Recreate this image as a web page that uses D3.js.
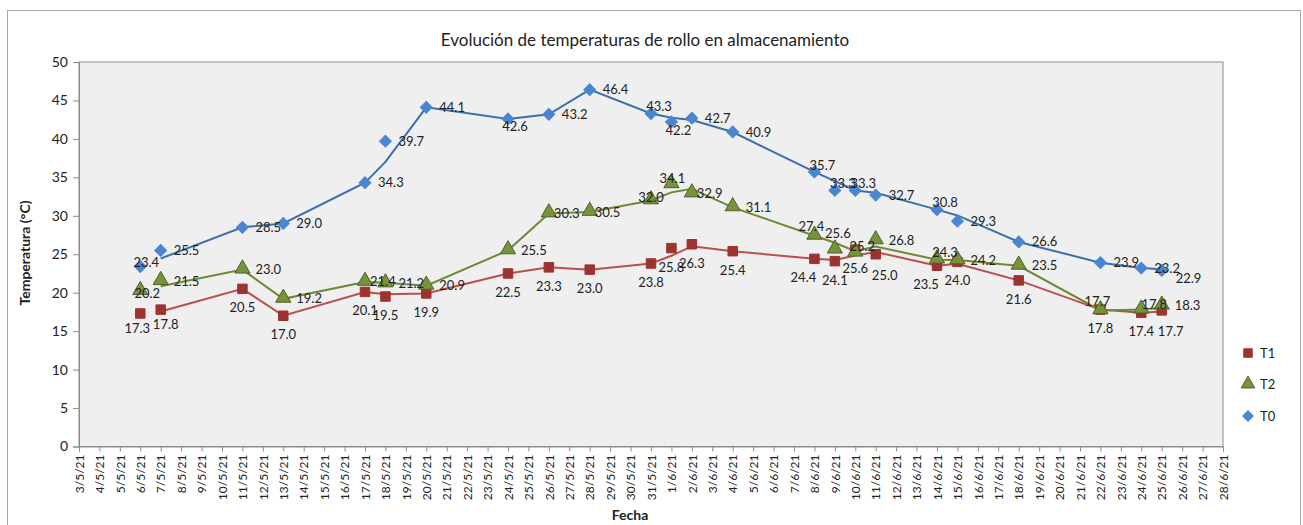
<!DOCTYPE html>
<html>
<head>
<meta charset="utf-8">
<script src="https://cdn.jsdelivr.net/npm/d3@7"></script>
<style>
  body { margin: 0; background: #fff; }
  text { font-family: Lato, "Open Sans", sans-serif; fill: #222; }
</style>
</head>
<body>
<div id="chart"></div>
<script>
// measurement dates and values
var dates = ['2021-05-06','2021-05-07','2021-05-11','2021-05-13','2021-05-17','2021-05-18','2021-05-20',
             '2021-05-24','2021-05-26','2021-05-28','2021-05-31','2021-06-01','2021-06-02','2021-06-04',
             '2021-06-08','2021-06-09','2021-06-10','2021-06-11','2021-06-14','2021-06-15','2021-06-18',
             '2021-06-22','2021-06-24','2021-06-25'];
var t1 = [17.3,17.8,20.5,17.0,20.1,19.5,19.9,22.5,23.3,23.0,23.8,25.8,26.3,25.4,24.4,24.1,25.6,25.0,23.5,24.0,21.6,17.8,17.4,17.7];
var t2 = [20.2,21.5,23.0,19.2,21.4,21.2,20.9,25.5,30.3,30.5,32.0,34.1,32.9,31.1,27.4,25.6,25.2,26.8,24.3,24.2,23.5,17.7,17.8,18.3];
var t0 = [23.4,25.5,28.5,29.0,34.3,39.7,44.1,42.6,43.2,46.4,43.3,42.2,42.7,40.9,35.7,33.3,33.3,32.7,30.8,29.3,26.6,23.9,23.2,22.9];
var seriesNames = ['T1','T2','T0'];
var yTicks = [0,5,10,15,20,25,30,35,40,45,50];

// where each data label sits (codes, see labelOffsets)
var pos1 = ['b1','b2','b','b','b','b','b','b','b','b','b','b','b','b','bl','b','b','br','bl','b','b','b','b','br'];
var pos2 = ['c2','r','r','r','r2','r','r','r','r2','r2','c3','c4','r2','r','t2','t3','c5','r','t','r','r','t2','c6','r'];
var pos0 = ['c','r','r','r','r','r','r','bc','r','r','t','bc','r','r','t','t','t','r','t','r','r','r','r','rb'];

var labelOffsets = {
  r: [13, 0, 'start'], r2: [5, 0, 'start'], rb: [14, 8, 'start'],
  b: [0, 19, 'middle'], b1: [-3, 15, 'middle'], b2: [5, 15, 'middle'],
  bl: [-11, 19, 'middle'], br: [9, 21, 'middle'], bc: [7, 8, 'middle'],
  t: [8, -7, 'middle'], t2: [-3, -9, 'middle'], t3: [3, -16, 'middle'],
  c: [6, -4, 'middle'], c2: [7, 2, 'middle'], c3: [0, -3, 'middle'], c4: [1, -6, 'middle'],
  c5: [7, -6, 'middle'], c6: [13, -5, 'middle']
};

var width = 1303, height = 525;
var svg = d3.select('#chart').append('svg')
    .attr('width', width)
    .attr('height', height);

// outer chart border
svg.append('rect')
    .attr('x', 7.5).attr('y', 10.5)
    .attr('width', 1293).attr('height', 530)
    .attr('fill', '#fff')
    .attr('stroke', '#a6a6a6');

var parse = d3.utcParse('%Y-%m-%d');
var days = dates.map(parse);

var x = d3.scaleUtc()
    .domain([parse('2021-05-03'), parse('2021-06-28')])
    .range([79, 1223]);
var y = d3.scaleLinear()
    .domain([0, 50])
    .range([446.5, 62]);

// plot area
svg.append('rect')
    .attr('x', x.range()[0]).attr('y', y.range()[1])
    .attr('width', x.range()[1] - x.range()[0])
    .attr('height', y.range()[0] - y.range()[1])
    .attr('fill', '#efefef')
    .attr('stroke', '#8c8c8c');

// axes
var yAxis = svg.append('g')
    .attr('transform', 'translate(' + x.range()[0] + ',0)')
    .call(d3.axisLeft(y).tickValues(yTicks).tickSize(6).tickPadding(5));
yAxis.selectAll('text').style('font-size', '14px');

var xAxis = svg.append('g')
    .attr('transform', 'translate(0,' + y.range()[0] + ')')
    .call(d3.axisBottom(x).ticks(d3.utcDay.every(1)).tickFormat(d3.utcFormat('%-d/%-m/%y')).tickSize(5));
xAxis.selectAll('text')
    .style('font-size', '12px')
    .attr('transform', 'rotate(-90)')
    .attr('text-anchor', 'end')
    .attr('x', -8)
    .attr('y', 0)
    .attr('dy', '0.35em');

[yAxis, xAxis].forEach(function(a) {
  a.select('.domain').attr('stroke', '#8c8c8c');
  a.selectAll('.tick line').attr('stroke', '#8c8c8c');
});

// titles
svg.append('text')
    .attr('x', 645).attr('y', 46)
    .attr('text-anchor', 'middle')
    .style('font-size', '17px')
    .text('Evolución de temperaturas de rollo en almacenamiento');
svg.append('text')
    .attr('transform', 'translate(30,253) rotate(-90)')
    .attr('text-anchor', 'middle')
    .style('font-size', '14px').style('font-weight', 'bold')
    .text('Temperatura (°C)');
svg.append('text')
    .attr('x', 630).attr('y', 520)
    .attr('text-anchor', 'middle')
    .style('font-size', '14px').style('font-weight', 'bold')
    .text('Fecha');

// series setup (diamond = square turned 45 degrees, like Excel)
var series = [
  { name: 'T1', values: t1, pos: pos1, fill: '#9b3331', stroke: '#9b3331', line: '#b9504d', shape: d3.symbolSquare, size: 90, rot: 0 },
  { name: 'T2', values: t2, pos: pos2, fill: '#77933c', stroke: '#4f6228', line: '#6c8a35', shape: d3.symbolTriangle, size: 100, rot: 0 },
  { name: 'T0', values: t0, pos: pos0, fill: '#4a86cf', stroke: '#4a86cf', line: '#3d6fad', shape: d3.symbolSquare, size: 70, rot: 45 }
];

// two-day moving average trendline (previous day + current day)
function movingAvg(vals) {
  var byDay = {};
  days.forEach(function(d, i) { byDay[+d] = vals[i]; });
  var out = [];
  days.forEach(function(d, i) {
    if (i === 0) return;
    var prev = byDay[+d3.utcDay.offset(d, -1)];
    out.push({ date: d, value: prev === undefined ? vals[i] : (prev + vals[i]) / 2 });
  });
  return out;
}

var line = d3.line()
    .x(function(d) { return x(d.date); })
    .y(function(d) { return y(d.value); });

series.forEach(function(s) {
  svg.append('path')
      .datum(movingAvg(s.values))
      .attr('d', line)
      .attr('fill', 'none')
      .attr('stroke', s.line)
      .attr('stroke-width', 2);
});

series.forEach(function(s) {
  var pts = s.values.map(function(v, i) { return { date: days[i], value: v, pos: s.pos[i] }; });
  var g = svg.append('g').attr('class', s.name);
  g.selectAll('path')
      .data(pts)
      .enter().append('path')
      .attr('d', d3.symbol().type(s.shape).size(s.size))
      .attr('transform', function(d) {
        var dy = s.shape === d3.symbolTriangle ? -1 : 0;
        return 'translate(' + x(d.date) + ',' + (y(d.value) + dy) + ') rotate(' + s.rot + ')';
      })
      .attr('fill', s.fill)
      .attr('stroke', s.stroke)
      .attr('stroke-width', 1);
});

// data labels on top
series.forEach(function(s) {
  var pts = s.values.map(function(v, i) { return { date: days[i], value: v, pos: s.pos[i] }; });
  svg.append('g').selectAll('text')
      .data(pts)
      .enter().append('text')
      .attr('x', function(d) { return x(d.date) + labelOffsets[d.pos][0]; })
      .attr('y', function(d) { return y(d.value) + labelOffsets[d.pos][1]; })
      .attr('dy', '0.35em')
      .attr('text-anchor', function(d) { return labelOffsets[d.pos][2]; })
      .style('font-size', '13px')
      .text(function(d) { return d.value.toFixed(1); });
});

// legend
var legend = svg.append('g').attr('transform', 'translate(1248,0)');
var legendY = [353, 384, 416];
series.forEach(function(s, i) {
  legend.append('path')
      .attr('d', d3.symbol().type(s.shape).size(s.size * 0.8))
      .attr('transform', 'translate(0,' + legendY[i] + ') rotate(' + s.rot + ')')
      .attr('fill', s.fill)
      .attr('stroke', s.stroke);
  legend.append('text')
      .attr('x', 12).attr('y', legendY[i])
      .attr('dy', '0.35em')
      .style('font-size', '13px')
      .text(seriesNames[i]);
});
</script>
</body>
</html>
